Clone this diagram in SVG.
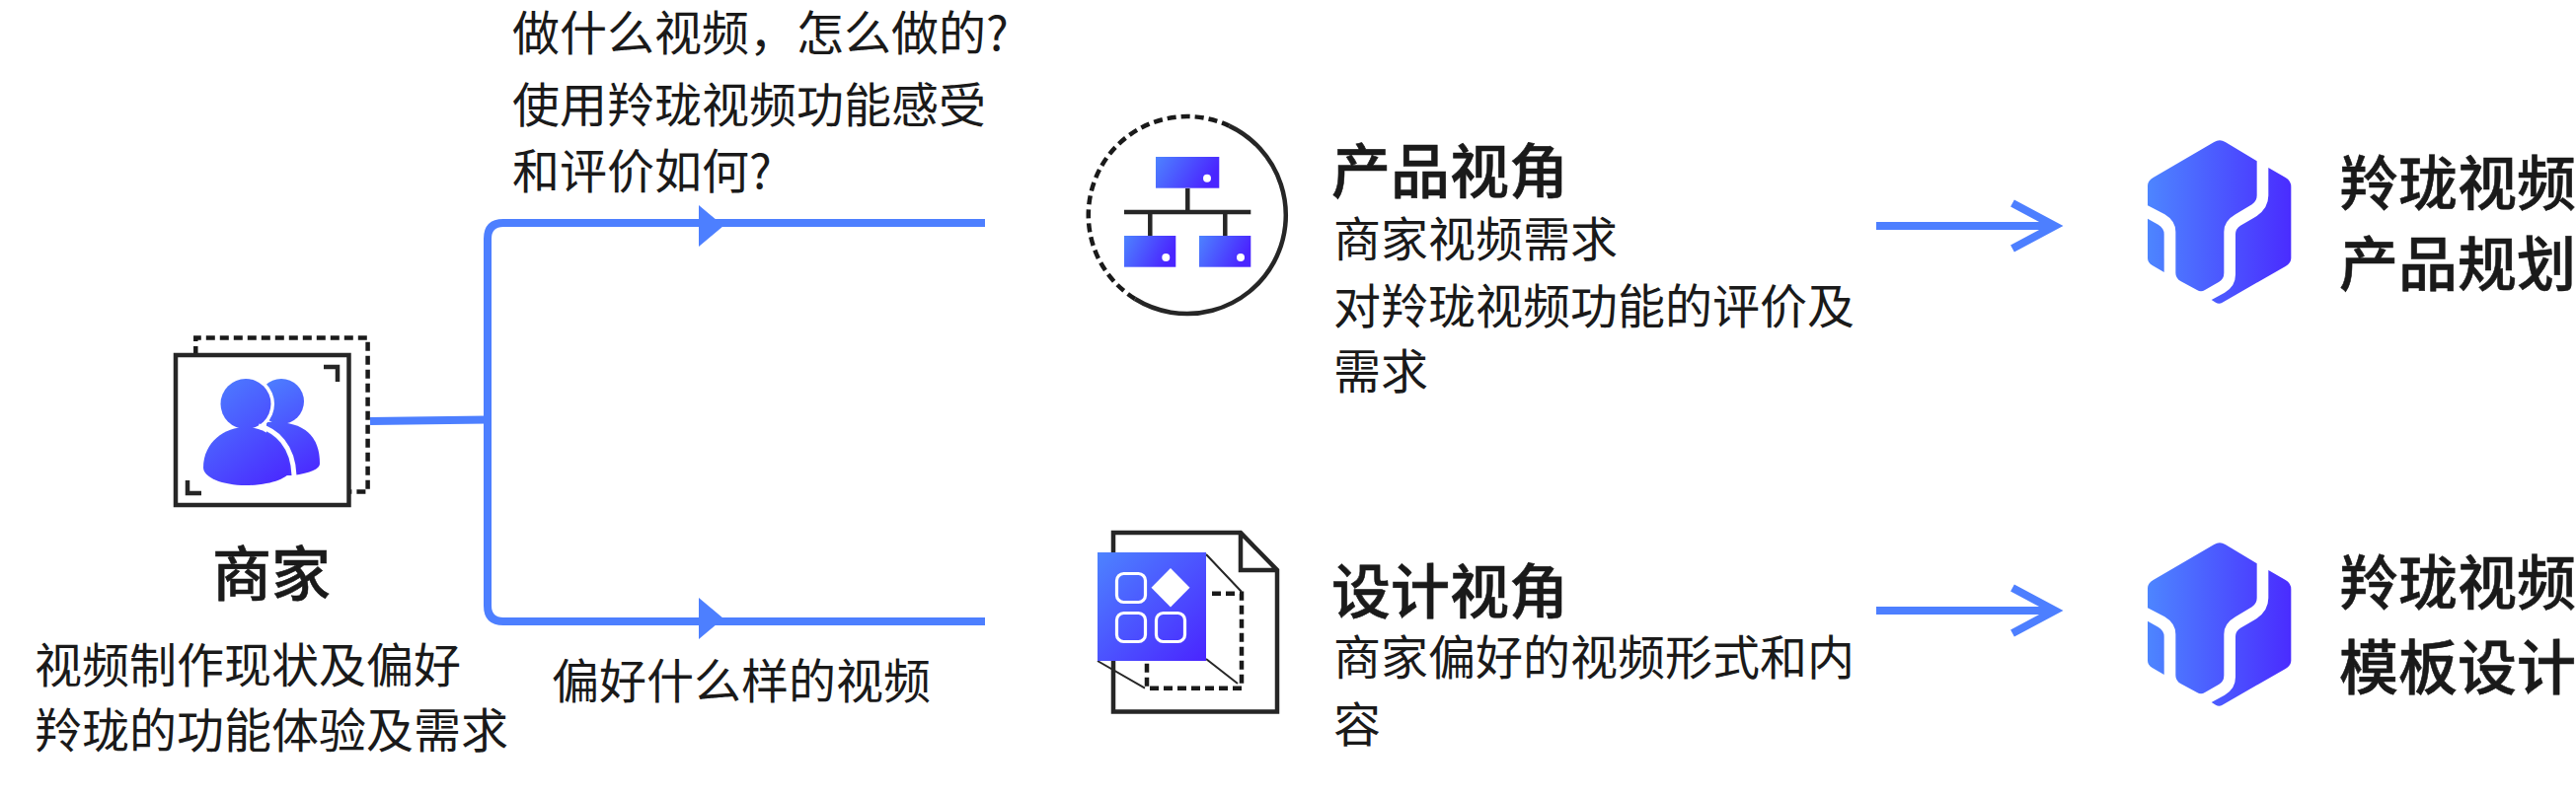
<svg xmlns="http://www.w3.org/2000/svg" xmlns:xlink="http://www.w3.org/1999/xlink" width="2610" height="808" viewBox="0 0 2610 808">
<style>
text{font-family:"Noto Sans CJK SC","Noto Sans",sans-serif;fill:#1a1a1a}
.b{font-size:48px}
.h{font-size:60px;font-weight:500;stroke:#1a1a1a;stroke-width:.6px}
.k{fill:none;stroke:#262626;stroke-width:4.5}
.d{fill:none;stroke:#1a1a1a;stroke-width:4.5;stroke-dasharray:9 5}
.c{fill:none;stroke:#4d7fff;stroke-width:8}
.w{fill:none;stroke:#fff;stroke-width:3.2}
</style>
<defs>
<linearGradient id="g" x1="0" y1="0" x2="1" y2="1"><stop offset="0" stop-color="#4d83ff"/><stop offset="1" stop-color="#4a25ff"/></linearGradient>
<linearGradient id="gp1" gradientUnits="userSpaceOnUse" x1="206" y1="384" x2="293" y2="492"><stop offset="0" stop-color="#4d83ff"/><stop offset="1" stop-color="#4a25ff"/></linearGradient>
<linearGradient id="gp2" gradientUnits="userSpaceOnUse" x1="262" y1="385" x2="324" y2="482"><stop offset="0" stop-color="#4d83ff"/><stop offset="1" stop-color="#4a25ff"/></linearGradient>
<linearGradient id="gh" x1="0" y1="0" x2="1" y2="0.3"><stop offset="0" stop-color="#4d83ff"/><stop offset="1" stop-color="#4a25ff"/></linearGradient>
<linearGradient id="gl" gradientUnits="userSpaceOnUse" x1="78" y1="0" x2="514" y2="0"><stop offset="0" stop-color="#4d85ff"/><stop offset="1" stop-color="#4a2cff"/></linearGradient>
<g id="logo" fill="url(#gl)">
<path d="M280 72Q297 62 314 72L410 130V235Q410 252 395 262L345 292Q310 312 310 345V470Q310 488 295 497L252 522Q240 530 228 522L178 495Q163 486 163 470V345Q163 312 130 292L78 265V205Q78 190 95 180Z"/>
<path d="M78 305L110 323Q128 334 128 352V468L92 447Q78 438 78 425Z"/>
<path d="M445 150L497 180Q514 190 514 208V425Q514 440 497 450L305 560Q295 566 285 560L272 552L312 530Q345 512 345 475V352Q345 336 360 326L405 300Q445 276 445 235Z"/>
</g>
</defs>
<rect width="2610" height="808" fill="#fff"/>

<g id="connectors">
<path class="c" d="M375 427L494 425.500"/>
<path class="c" d="M998 226H510Q494 226 494 242V614Q494 630 510 630H998"/>
<path d="M708 208L733 229L708 250Z" fill="#4d7fff"/>
<path d="M708 606L733 627L708 648Z" fill="#4d7fff"/>
<path class="c" d="M1901 229H2082M2039 206L2082 229L2039 252"/>
<path class="c" d="M1901 619H2082M2039 596L2082 619L2039 642"/>
</g>

<g id="node-merchant">
<path class="d" d="M198.300 360V342.500H372.600V498.500H355"/>
<rect class="k" x="178" y="360" width="175.500" height="152"/>
<path class="k" d="M328 372H342V387M190 487V500H204"/>
<circle cx="285" cy="407" r="23" fill="url(#gp2)"/>
<path d="M270 428Q324 425 324 470Q324 478 297 482L270 482Z" fill="url(#gp2)"/>
<circle cx="249" cy="409.500" r="29" fill="#fff"/>
<circle cx="249" cy="409.500" r="25.500" fill="url(#gp1)"/>
<path d="M206 474C206 448 228 433 249 433C272 433 293 452 293 478C293 484 275 492 249 492C225 492 206 484 206 474Z" fill="url(#gp1)"/>
<path d="M262 432C280 436 297 452 298 482" fill="none" stroke="#fff" stroke-width="5"/>
<text class="h" x="275" y="604" text-anchor="middle">商家</text>
<text class="b" x="35" y="692">视频制作现状及偏好</text>
<text class="b" x="35" y="758">羚珑的功能体验及需求</text>
</g>

<g id="label-top">
<text class="b" x="519" y="51">做什么视频，怎么做的?</text>
<text class="b" x="519" y="124">使用羚珑视频功能感受</text>
<text class="b" x="519" y="191">和评价如何?</text>
</g>
<g id="label-bottom">
<text class="b" x="559" y="708">偏好什么样的视频</text>
</g>

<g id="node-product">
<path class="k" d="M1245.400 127.600A100 100 0 1 1 1150 303"/>
<path class="d" d="M1150 303A100 100 0 0 1 1245.400 127.600"/>
<path class="k" d="M1203.300 191V215M1139 215H1267.300M1165.300 215V239M1241.300 215V239"/>
<rect x="1171" y="159" width="64.300" height="31.700" fill="url(#gh)"/>
<rect x="1139" y="239" width="52.300" height="31.700" fill="url(#gh)"/>
<rect x="1215" y="239" width="52.300" height="31.700" fill="url(#gh)"/>
<circle cx="1223" cy="180.700" r="4" fill="#fff"/>
<circle cx="1181.300" cy="261" r="4" fill="#fff"/>
<circle cx="1257" cy="261" r="4" fill="#fff"/>
<text class="h" x="1349" y="196">产品视角</text>
<text class="b" x="1351" y="260">商家视频需求</text>
<text class="b" x="1351" y="328">对羚珑视频功能的评价及</text>
<text class="b" x="1351" y="394">需求</text>
</g>

<g id="node-design">
<path class="k" d="M1128 540H1257L1294 578V721.500H1128ZM1257 540V578H1294"/>
<path class="d" stroke-dasharray="8 6" d="M1228 601.700H1258V697.700H1162V672"/>
<path d="M1222 562L1258 600M1112 670L1160 697.700M1222 668L1254 693" fill="none" stroke="#262626" stroke-width="2"/>
<rect x="1112" y="560" width="110" height="110" fill="url(#g)"/>
<rect class="w" x="1131.500" y="581.500" width="29" height="29" rx="7"/>
<rect class="w" x="1131.500" y="621.500" width="29" height="29" rx="7"/>
<rect class="w" x="1171.500" y="621.500" width="29" height="29" rx="7"/>
<path d="M1186 576L1205.500 595.700L1186 615.500L1166.500 595.700Z" fill="#fff"/>
<text class="h" x="1349" y="622">设计视角</text>
<text class="b" x="1351" y="684">商家偏好的视频形式和内</text>
<text class="b" x="1351" y="752">容</text>
</g>

<g id="node-plan">
<use xlink:href="#logo" href="#logo" transform="translate(2150 120) scale(.33333)"/>
<text class="h" x="2370" y="208">羚珑视频</text>
<text class="h" x="2370" y="290">产品规划</text>
</g>
<g id="node-template">
<use xlink:href="#logo" href="#logo" transform="translate(2150 528) scale(.33333)"/>
<text class="h" x="2370" y="613">羚珑视频</text>
<text class="h" x="2370" y="699">模板设计</text>
</g>
</svg>
